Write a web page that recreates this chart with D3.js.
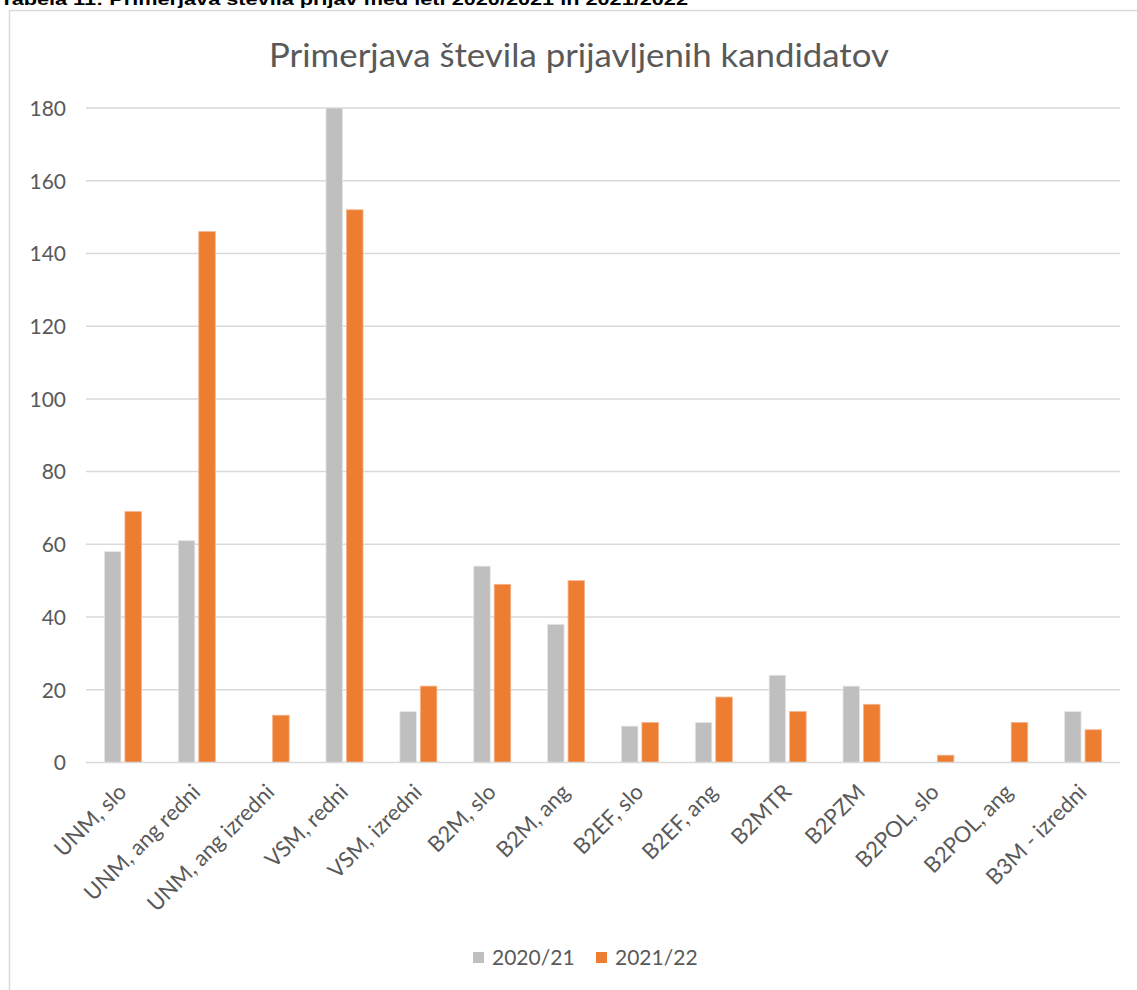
<!DOCTYPE html>
<html>
<head>
<meta charset="utf-8">
<script src="https://cdn.jsdelivr.net/npm/d3@7"></script>
<style>
  html, body { margin: 0; padding: 0; background: #fff; }
  svg { display: block; }
</style>
</head>
<body>
<svg id="chart" width="1137" height="990"></svg>
<script>
const categories = ["UNM, slo", "UNM, ang redni", "UNM, ang izredni", "VSM, redni", "VSM, izredni",
  "B2M, slo", "B2M, ang", "B2EF, slo", "B2EF, ang", "B2MTR", "B2PZM", "B2POL, slo", "B2POL, ang", "B3M - izredni"];
const series2020 = [58, 61, 0, 180, 14, 54, 38, 10, 11, 24, 21, 0, 0, 14];
const series2021 = [69, 146, 13, 152, 21, 49, 50, 11, 18, 14, 16, 2, 11, 9];
const seriesNames = ["2020/21", "2021/22"];
const yTicks = [0, 20, 40, 60, 80, 100, 120, 140, 160, 180];
const titleText = "Primerjava števila prijavljenih kandidatov";
const captionText = "Tabela 11: Primerjava števila prijav med leti 2020/2021 in 2021/2022";

const colors = ["#BFBFBF", "#ED7D31"];
const textColor = "#595959";
const font = "Lato, 'Open Sans', sans-serif";

const svg = d3.select("#chart");

// caption (cut off at top, as in the source)
svg.append("text")
  .attr("x", 0).attr("y", 5)
  .attr("font-family", "'Liberation Sans', Arial, sans-serif")
  .attr("font-weight", "bold")
  .attr("font-size", 17)
  .attr("textLength", 688)
  .attr("lengthAdjust", "spacingAndGlyphs")
  .attr("fill", "#000")
  .text(captionText);

// chart frame
svg.append("rect")
  .attr("x", 9.5).attr("y", 10.5)
  .attr("width", 1140).attr("height", 1000)
  .attr("fill", "#fff")
  .attr("stroke", "#D9D9D9")
  .attr("stroke-width", 1.5);

// title
svg.append("text")
  .attr("x", 579).attr("y", 67)
  .attr("text-anchor", "middle")
  .attr("font-family", font)
  .attr("font-size", 33)
  .attr("textLength", 620)
  .attr("lengthAdjust", "spacingAndGlyphs")
  .attr("fill", textColor)
  .text(titleText);

const plot = { left: 86, right: 1120, top: 108, bottom: 762.5 };

const x = d3.scaleBand().domain(categories).range([plot.left, plot.right]);
const y = d3.scaleLinear().domain([0, 180]).range([plot.bottom, plot.top]);

// gridlines
svg.append("g").selectAll("line").data(yTicks.filter(d => d > 0)).join("line")
  .attr("x1", plot.left).attr("x2", plot.right)
  .attr("y1", d => y(d)).attr("y2", d => y(d))
  .attr("stroke", "#D9D9D9").attr("stroke-width", 1.5);

// y axis labels
const yAxis = d3.axisLeft(y).tickValues(yTicks).tickSize(0).tickPadding(0);
const yg = svg.append("g").attr("transform", `translate(66,0)`).call(yAxis);
yg.select(".domain").remove();
yg.selectAll("text")
  .attr("font-family", font).attr("font-size", 21).attr("fill", textColor)
  .attr("dy", "0.35em");

// bars
const barW = 16.5, gap = 4;
const allSeries = [series2020, series2021];
allSeries.forEach((vals, si) => {
  svg.append("g").selectAll("rect").data(categories).join("rect")
    .attr("x", (c) => x(c) + x.bandwidth() / 2 + (si === 0 ? -(barW + gap / 2) : gap / 2))
    .attr("width", barW)
    .attr("y", (c, i) => y(vals[i]))
    .attr("height", (c, i) => y(0) - y(vals[i]))
    .attr("fill", colors[si])
    .attr("stroke", si === 0 ? "#E6E6E6" : "#F6B28A")
    .attr("stroke-width", 0.8)
    .style("display", (c, i) => vals[i] === 0 ? "none" : null);
});

// x axis line
svg.append("line")
  .attr("x1", plot.left).attr("x2", plot.right)
  .attr("y1", y(0)).attr("y2", y(0))
  .attr("stroke", "#D9D9D9").attr("stroke-width", 1.5);

// x labels
const xAxis = d3.axisBottom(x).tickSize(0).tickPadding(0);
const xg = svg.append("g").attr("transform", `translate(0,${y(0)})`).call(xAxis);
xg.select(".domain").remove();
xg.selectAll("text")
  .attr("font-family", font).attr("font-size", 22).attr("fill", textColor)
  .attr("text-anchor", "end")
  .attr("dy", null)
  .attr("y", 0)
  .attr("transform", "translate(5,31) rotate(-45)");

// legend
const legend = svg.append("g");
const legX = [473, 596];
seriesNames.forEach((n, i) => {
  legend.append("rect").attr("x", legX[i]).attr("y", 952).attr("width", 11).attr("height", 11)
    .attr("fill", colors[i]);
  legend.append("text").attr("x", legX[i] + 19).attr("y", 965)
    .attr("font-family", font).attr("font-size", 21).attr("fill", textColor)
    .text(n);
});
</script>
</body>
</html>
